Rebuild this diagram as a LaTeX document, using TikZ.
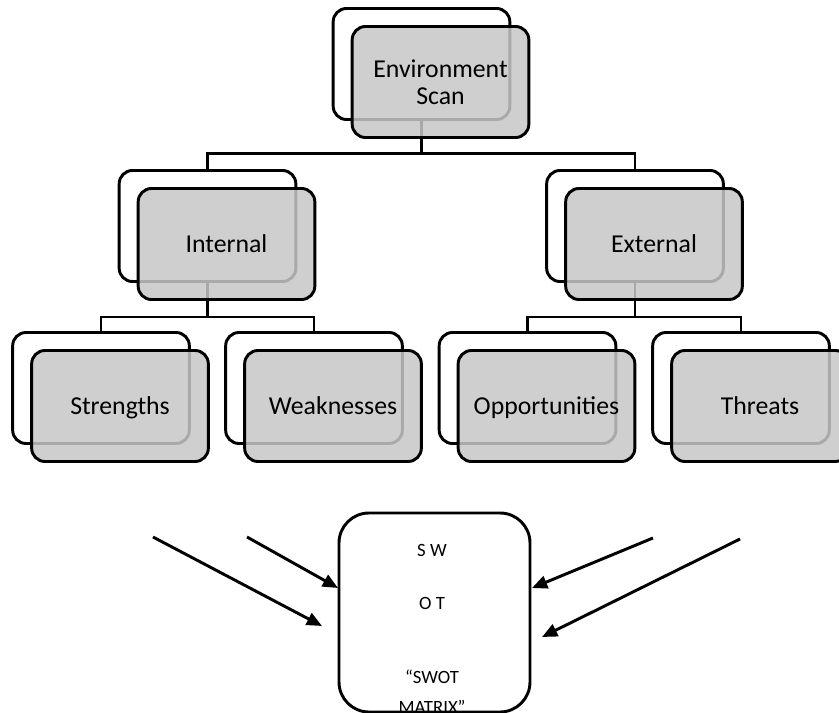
\documentclass[tikz,border=0pt]{standalone}
\usepackage{fontspec}
\setmainfont{Carlito}
\usetikzlibrary{arrows.meta,positioning}
\definecolor{boxgrey}{gray}{0.78}
\tikzset{
	backbox/.style = {draw, fill = white, rounded corners = 0.4cm, line width = 2.5pt,
		minimum width = 5.3cm, minimum height = 3.33cm},
	frontbox/.style = {draw, fill = boxgrey, fill opacity = 0.85, text opacity = 1,
		rounded corners = 0.4cm, line width = 2.5pt, minimum width = 5.3cm,
		minimum height = 3.33cm, font = \fontsize{22}{23}\selectfont, align = center,
		text depth = 0pt},
	link/.style = {line width = 2.5pt},
	feed/.style = {line width = 2.5pt, -{Triangle[length = 13pt, width = 11pt]}},
	matrixbox/.style = {draw, rounded corners = 0.9cm, line width = 2.5pt,
		minimum width = 5.73cm, minimum height = 5.97cm},
	matrixtext/.style = {font = \fontsize{16}{16}\selectfont}
}
\begin{document}
\begin{tikzpicture}[x = 0.03cm, y = -0.03cm]
	\useasboundingbox (0,0) rectangle (839,713);
	\clip (0,0) rectangle (839,713);

	% back boxes
	\node (envBack) [backbox] at (421.5,64) {};
	\node (intBack) [backbox] at (207.5,226) {};
	\node (extBack) [backbox] at (635,226) {};
	\node (strBack) [backbox] at (101,388) {};
	\node (weaBack) [backbox] at (314,388) {};
	\node (oppBack) [backbox] at (527.5,388) {};
	\node (thrBack) [backbox] at (741,388) {};

	% tree lines
	\draw [link] (envBack.south) -- ++(0,33) -| (intBack.north);
	\draw [link] (envBack.south) -- ++(0,33) -| (extBack.north);
	\draw [link] (intBack.south) -- ++(0,34) -| (strBack.north);
	\draw [link] (intBack.south) -- ++(0,34) -| (weaBack.north);
	\draw [link] (extBack.south) -- ++(0,34) -| (oppBack.north);
	\draw [link] (extBack.south) -- ++(0,34) -| (thrBack.north);

	% front boxes
	\node (envFront) [frontbox] at ([shift = {(19,18)}] envBack.center) {Environment\\Scan};
	\node (intFront) [frontbox] at ([shift = {(19,18)}] intBack.center) {Internal};
	\node (extFront) [frontbox] at ([shift = {(19,18)}] extBack.center) {External};
	\node (strFront) [frontbox] at ([shift = {(19,18)}] strBack.center) {Strengths};
	\node (weaFront) [frontbox] at ([shift = {(19,18)}] weaBack.center) {Weaknesses};
	\node (oppFront) [frontbox] at ([shift = {(19,18)}] oppBack.center) {Opportunities};
	\node (thrFront) [frontbox] at ([shift = {(19,18)}] thrBack.center) {Threats};

	% swot matrix
	\node (swot) [matrixbox] at (434.5,612.5) {};
	\node (sw) [matrixtext] at (432,550) {S W};
	\node (ot) [matrixtext] at (432,603) {O T};
	\node (swotA) [matrixtext] at (432,677) {``SWOT};
	\node (swotB) [matrixtext] at (432,707) {MATRIX''};

	\coordinate (strIn) at (153,537);
	\coordinate (weaIn) at (247,537);
	\coordinate (oppIn) at (653,538);
	\coordinate (thrIn) at (740,539);
	\coordinate (strTip) at (322,626);
	\coordinate (weaTip) at (338,588);
	\coordinate (oppTip) at (532,588);
	\coordinate (thrTip) at (542,637);
	\draw [feed] (strIn) -- (strTip);
	\draw [feed] (weaIn) -- (weaTip);
	\draw [feed] (oppIn) -- (oppTip);
	\draw [feed] (thrIn) -- (thrTip);
\end{tikzpicture}
\end{document}
